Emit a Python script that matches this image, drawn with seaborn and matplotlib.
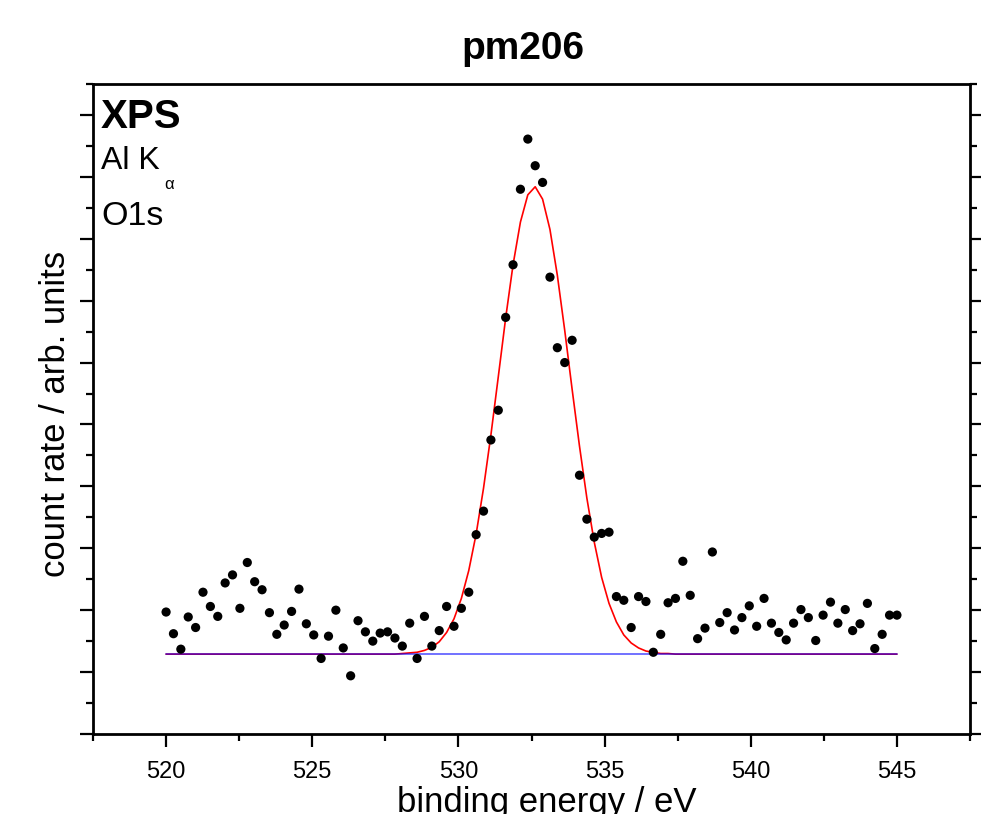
import numpy as np
import pandas as pd
import matplotlib
matplotlib.use('Agg')
import matplotlib.pyplot as plt
from matplotlib.ticker import MultipleLocator
import seaborn as sns

# O1s XPS spectrum, 100 points from 520 to 545 eV (arb. units)
energy = np.linspace(520, 545, 100)

counts = [
    1.97, 1.62, 1.37, 1.89, 1.72, 2.29, 2.06, 1.90, 2.44, 2.57,
    2.03, 2.77, 2.46, 2.33, 1.96, 1.61, 1.76, 1.98, 2.34, 1.78,
    1.60, 1.22, 1.58, 2.00, 1.39, 0.94, 1.83, 1.65, 1.50, 1.63,
    1.65, 1.55, 1.42, 1.79, 1.22, 1.90, 1.42, 1.67, 2.06, 1.74,
    2.03, 2.29, 3.22, 3.60, 4.75, 5.23, 6.73, 7.58, 8.80, 9.61,
    9.18, 8.91, 7.38, 6.24, 6.00, 6.36, 4.18, 3.47, 3.18, 3.24,
    3.26, 2.22, 2.16, 1.72, 2.22, 2.14, 1.32, 1.61, 2.12, 2.19,
    2.79, 2.24, 1.54, 1.71, 2.94, 1.80, 1.96, 1.68, 1.88, 2.07,
    1.74, 2.19, 1.79, 1.64, 1.52, 1.79, 2.01, 1.88, 1.51, 1.92,
    2.13, 1.79, 2.01, 1.67, 1.78, 2.11, 1.38, 1.61, 1.92, 1.92,
]

# fitted peak at each data point
fit = ([1.29] * 32 + [
    1.30, 1.31, 1.32, 1.35, 1.40, 1.49, 1.64, 1.86, 2.19, 2.64,
    3.23, 3.97, 4.83, 5.77, 6.72, 7.58, 8.27, 8.71, 8.84, 8.64,
    8.15, 7.41, 6.52, 5.57, 4.65, 3.81, 3.10, 2.53, 2.11, 1.81,
    1.60, 1.47, 1.39, 1.34, 1.32, 1.30, 1.30,
] + [1.29] * 31)

background_x = [520, 545]
background_y = [1.29, 1.29]

spec = pd.DataFrame({'energy': energy, 'counts': counts, 'fit': fit})

sns.set_style('ticks')
plt.rcParams['font.family'] = ['Liberation Sans', 'DejaVu Sans']
plt.rcParams['text.color'] = 'black'
plt.rcParams['axes.labelcolor'] = 'black'
plt.rcParams['xtick.color'] = 'black'
plt.rcParams['ytick.color'] = 'black'

fig = plt.figure(figsize=(9.81, 8.14), dpi=100)
ax = fig.add_axes([0.0948, 0.0983, 0.8940, 0.7985])

sns.lineplot(data=spec, x='energy', y='fit', color='red', linewidth=1.2, ax=ax)
sns.lineplot(x=background_x, y=background_y, color='blue', alpha=0.6, linewidth=1.3, ax=ax)
sns.scatterplot(data=spec, x='energy', y='counts', color='black', s=44,
                edgecolor='none', ax=ax, zorder=5)

ax.set_xlim(517.5, 547.5)
ax.set_ylim(0, 10.5)
ax.xaxis.set_major_locator(MultipleLocator(5))
ax.xaxis.set_minor_locator(MultipleLocator(2.5))
ax.yaxis.set_major_locator(MultipleLocator(1))
ax.yaxis.set_minor_locator(MultipleLocator(0.5))

for side in ['left', 'right', 'bottom', 'top']:
    ax.spines[side].set_linewidth(2)
    ax.spines[side].set_color('black')
ax.tick_params(which='both', direction='out', width=1.6,
               left=True, right=True, bottom=True, top=False,
               labelleft=False, labelsize=17, pad=10)
ax.tick_params(which='major', length=9.5)
ax.tick_params(which='minor', length=5)

ax.set_xlabel('binding energy / eV', fontsize=25)
ax.xaxis.set_label_coords(0.5175, -0.080)
ax.set_ylabel('count rate / arb. units', fontsize=25)
ax.yaxis.set_label_coords(-0.024, 0.492)
ax.set_title('pm206', fontsize=28, fontweight='bold', pad=18, x=0.49)

ax.text(0.009, 0.978, 'XPS', transform=ax.transAxes, fontsize=29,
        fontweight='bold', va='top', ha='left')
alk = ax.text(0.009, 0.905, 'Al K', transform=ax.transAxes, fontsize=23,
              va='top', ha='left')
ax.annotate('α', xy=(1, 0), xycoords=alk, xytext=(3, -1),
            textcoords='offset points', fontsize=12, va='top', ha='left')
ax.text(0.009, 0.820, 'O1s', transform=ax.transAxes, fontsize=24.5,
        va='top', ha='left')

fig.savefig('out.png', dpi=100)
